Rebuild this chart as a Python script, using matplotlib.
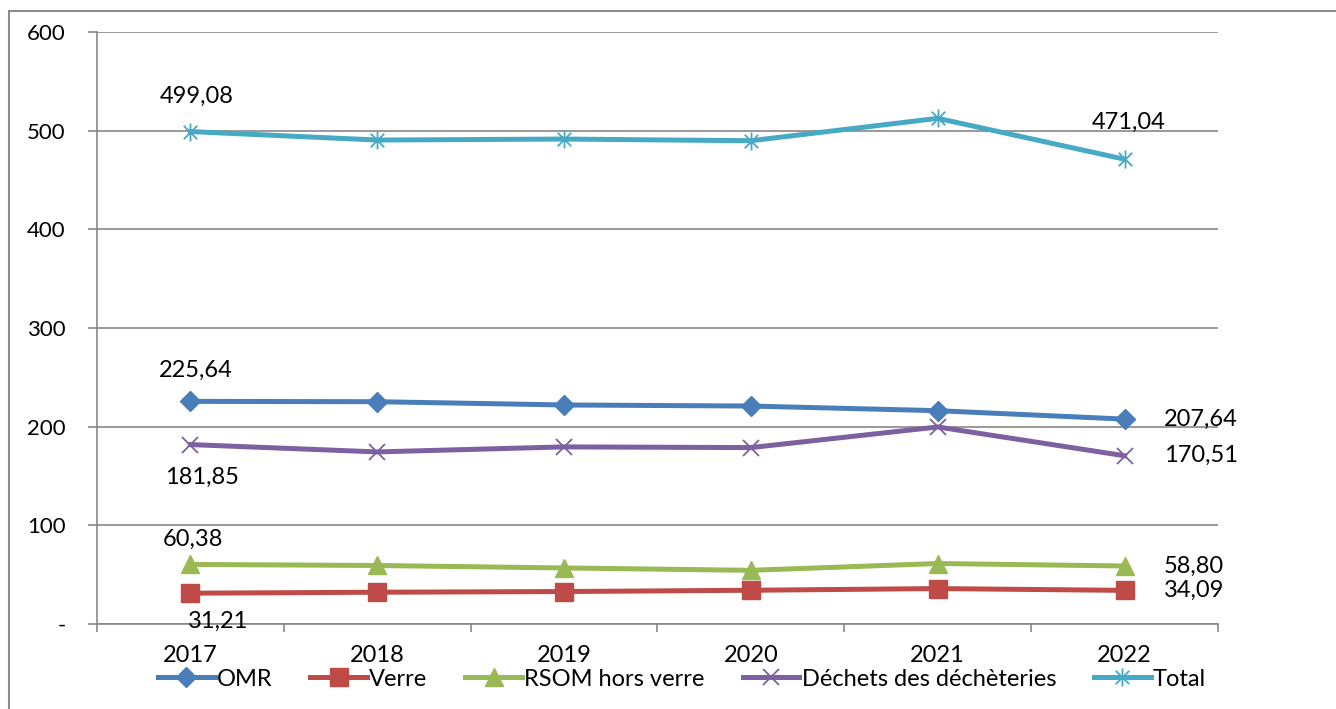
import numpy as np
import matplotlib.pyplot as plt
from matplotlib.path import Path
from matplotlib.patches import Rectangle

# data (kg / habitant / an)
years = ["2017", "2018", "2019", "2020", "2021", "2022"]
omr = [225.64, 225.3, 222.0, 220.9, 216.2, 207.64]
verre = [31.21, 32.2, 32.9, 34.2, 35.9, 34.09]
rsom = [60.38, 59.3, 56.8, 54.4, 61.3, 58.80]
decheteries = [181.85, 174.4, 179.5, 178.8, 199.7, 170.51]
total = [499.08, 490.5, 491.5, 489.8, 512.5, 471.04]

series_names = ["OMR", "Verre", "RSOM hors verre", "Déchets des déchèteries", "Total"]

# star marker like the office one: vertical stroke + an X
star = Path([(0, -1), (0, 1), (-0.75, -0.75), (0.75, 0.75), (-0.75, 0.75), (0.75, -0.75)],
            [Path.MOVETO, Path.LINETO, Path.MOVETO, Path.LINETO, Path.MOVETO, Path.LINETO])

styles = [
    dict(color="#4A7EBB", marker="D", ms=10),
    dict(color="#BE4B48", marker="s", ms=13),
    dict(color="#98B954", marker="^", ms=13),
    dict(color="#7D60A0", marker="x", ms=12, mew=1.3),
    dict(color="#46AAC5", marker=star, ms=13, mew=1.3),
]

FONT = ["Lato", "DejaVu Sans"]
px = 72 / 100  # pixel -> point at dpi 100

fig = plt.figure(figsize=(13.36, 7.09), dpi=100)
ax = fig.add_axes([97 / 1336, 1 - 624 / 709, (1218 - 97) / 1336, (624 - 32) / 709])

x = np.arange(len(years))
all_series = [omr, verre, rsom, decheteries, total]
for name, vals, st in zip(series_names, all_series, styles):
    ax.plot(x, vals, lw=3.6, label=name, solid_joinstyle="round", **st)

# data labels: (series index, point index, dx px, dy px, ha)
labels = [
    (4, 0, 6, -35, "center"),
    (4, 5, 4, -37, "center"),
    (0, 0, 5, -31, "center"),
    (0, 5, 39, 0, "left"),
    (3, 0, 12, 33, "center"),
    (3, 5, 39, 0, "left"),
    (2, 0, 3, -25, "center"),
    (2, 5, 39, 0, "left"),
    (1, 0, 28, 28, "center"),
    (1, 5, 39, 0, "left"),
]
for si, pi, dx, dy, ha in labels:
    v = all_series[si][pi]
    ax.annotate(f"{v:.2f}".replace(".", ","), (x[pi], v),
                xytext=(dx * px, -dy * px), textcoords="offset points",
                ha=ha, va="center", fontsize=17, family=FONT)

ax.set_xlim(-0.5, len(years) - 0.5)
ax.set_ylim(0, 600)
ax.set_yticks(np.arange(0, 601, 100))
ax.set_yticklabels(["-"] + [str(v) for v in range(100, 601, 100)])
ax.grid(axis="y", color="#878787", lw=1.2)
ax.set_axisbelow(True)

ax.set_xticks(np.arange(-0.5, len(years)), labels=[""] * (len(years) + 1))
ax.set_xticks(x, labels=years, minor=True)
ax.tick_params(axis="x", which="major", length=6, width=1.2, color="#878787")
ax.tick_params(axis="x", which="minor", length=0, pad=15, labelsize=17)
ax.tick_params(axis="y", length=6.5, width=1.2, color="#878787", pad=16, labelsize=16)
for lab in ax.get_xticklabels(minor=True) + ax.get_yticklabels():
    lab.set_family(FONT)

for s in ["top", "right"]:
    ax.spines[s].set_visible(False)
for s in ["left", "bottom"]:
    ax.spines[s].set_color("#878787")
    ax.spines[s].set_linewidth(1.2)

fig.legend(loc="center", bbox_to_anchor=(682 / 1336, 1 - 679 / 709), ncol=5,
           frameon=False, prop={"family": FONT, "size": 17}, handlelength=2.4,
           handletextpad=0.1, columnspacing=1.6, borderpad=0)

# outer chart border (left and top edges visible)
fig.patches.append(Rectangle((9 / 1336, -0.1), 1.2, 1 - 11 / 709 + 0.1,
                             transform=fig.transFigure, fill=False,
                             edgecolor="#8c8c8c", lw=1.5))

fig.savefig("out.png", dpi=100)
